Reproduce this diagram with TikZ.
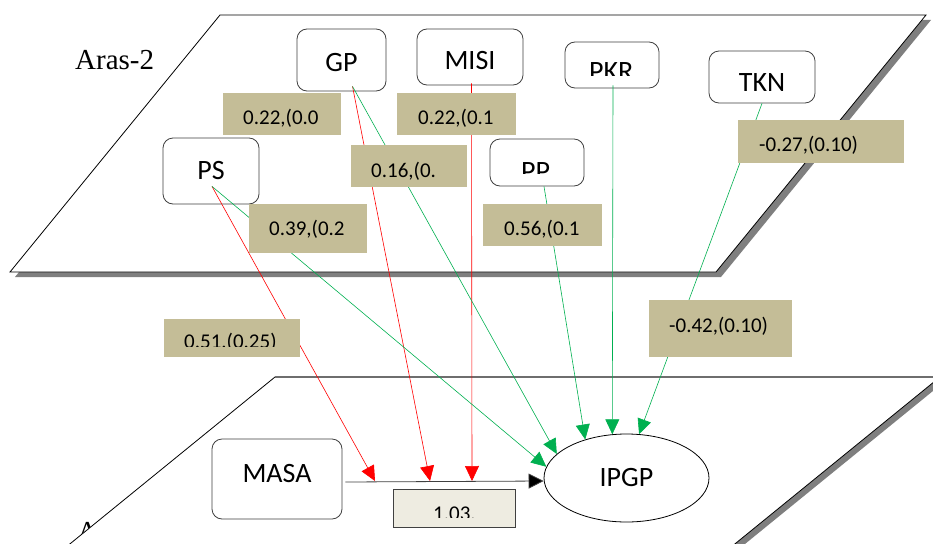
\documentclass[tikz,border=0pt]{standalone}
\usepackage{fontspec}
\setmainfont{Liberation Serif}
\newfontfamily\calib{Carlito}
\usetikzlibrary{arrows.meta,shapes.geometric,calc}

\definecolor{tanbox}{HTML}{C4BD97}
\definecolor{tanlight}{HTML}{EEECE1}
\definecolor{ogreen}{HTML}{00B050}
\definecolor{shadowgray}{HTML}{7F7F7F}
\definecolor{boxline}{HTML}{404040}
\definecolor{edgegray}{HTML}{6E6E6E}

\tikzset{
  varbox/.style={draw=boxline, fill=white, rounded corners=10pt, line width=0.8pt,
    inner sep=0pt, font=\calib\fontsize{28}{30}\selectfont, text=black},
  varoval/.style={ellipse, draw=black, fill=white, line width=0.8pt, inner sep=0pt,
    font=\calib\fontsize{28}{30}\selectfont},
  vartext/.style={anchor=base west, inner sep=0pt, font=\calib\fontsize{28}{30}\selectfont},
  coefbox/.style={fill=tanbox, inner sep=0pt},
  coeftxt/.style={anchor=base west, inner sep=0pt, font=\calib\fontsize{21}{23}\selectfont},
  levtxt/.style={anchor=base west, inner sep=0pt, font=\fontsize{29}{31}\selectfont},
  redpath/.style={draw=red, line width=0.6pt, -{Triangle[length=15pt,width=14pt]}},
  greenpath/.style={draw=ogreen, line width=0.6pt, -{Triangle[length=15pt,width=14pt]}},
  blackpath/.style={draw=boxline, line width=0.8pt, -{Triangle[length=15pt,width=15pt,fill=black]}},
}

\begin{document}
\begin{tikzpicture}[x=1pt,y=-1pt]
\useasboundingbox (0,0) rectangle (933,543);
\clip (0,0) rectangle (933,543);

% top plane (Aras-2)
\fill[shadowgray] (225,20) -- (931,20) -- (721,277) -- (15,277) -- cycle;
\draw[fill=white, line width=0.8pt] (220,15) -- (926,15) -- (716,272) -- (10,272) -- cycle;
\node[levtxt] (aras2) at (75,70) {Aras-2};

% bottom plane (Aras-1)
\node[levtxt] (aras1) at (77,541) {Aras-1};
\fill[shadowgray] (279,382) -- (944,382) -- (670,605) -- (5,605) -- cycle;
\fill[white] (275,377) -- (940,377) -- (666,600) -- (1,600) -- cycle;
\draw[line width=0.8pt] (275,377) -- (1,600);
\draw[line width=0.8pt] (940,377) -- (666,600);
\draw[edgegray, line width=1.2pt] (275,377) -- (940,377);

% variables
\node[varbox, minimum width=89pt, minimum height=62pt, text height=22pt, text depth=0pt] (GP) at (341.5,60) {GP};
\node[varbox, minimum width=106pt, minimum height=56pt, text height=26pt, text depth=0pt] (MISI) at (470,57) {MISI};
\node[varbox, minimum width=94pt, minimum height=46pt] (PKR) at (612,65) {};
\begin{scope}
  \clip (565,42) rectangle (659,75);
  \node[vartext] (PKRt) at (589,81) {PKR};
\end{scope}
\node[varbox, minimum width=106pt, minimum height=52pt, text height=28pt, text depth=0pt] (TKN) at (762,77) {TKN};
\node[varbox, minimum width=94pt, minimum height=47pt] (PP) at (537,162.5) {};
\begin{scope}
  \clip (490,139) rectangle (584,173);
  \node[vartext] (PPt) at (521,180) {PP};
\end{scope}
\node[varbox, minimum width=96pt, minimum height=66pt] (PS) at (211,171) {PS};
\node[varbox, minimum width=130pt, minimum height=80pt, text height=18pt, text depth=12pt] (MASA) at (277,479) {MASA};
\node[varoval, minimum width=165pt, minimum height=88pt] (IPGP) at (626.5,478) {IPGP};

% 1.03 box
\node[fill=tanlight, draw=boxline, line width=0.8pt, inner sep=0pt, minimum width=122pt, minimum height=38pt] (c9) at (454,508) {};
\begin{scope}
  \clip (393,489) rectangle (515,517.5);
  \node[coeftxt] (t9) at (433,520.5) {1.03.};
\end{scope}

% moderation targets on the MASA -> IPGP path
\coordinate (r1) at (375,481);
\coordinate (r2) at (430,481);
\coordinate (r3) at (472,481);

% connectors
\draw[blackpath] ([xshift=3pt,yshift=-3pt]MASA.east) -- ([yshift=-3pt]IPGP.west);
\draw[redpath] ([xshift=1pt,yshift=18pt]PS.south) -- (r1);
\draw[redpath] ([xshift=11pt,yshift=5pt]GP.south) -- (r2);
\draw[redpath] ([xshift=1.5pt,yshift=2pt]MISI.south) -- (r3);
\draw[greenpath] ([xshift=1pt,yshift=18pt]PS.south) -- (IPGP.172);
\draw[greenpath] ([xshift=11pt,yshift=5pt]GP.south) -- (IPGP.161);
\draw[greenpath] ([xshift=7pt]PP.south) -- (IPGP.137);
\draw[greenpath] ([xshift=1pt,yshift=3pt]PKR.south) -- (IPGP.108);
\draw[greenpath] (TKN.south) -- (IPGP.74);

% coefficient labels
\node[coefbox, minimum width=118pt, minimum height=42pt] (c1) at (282,114) {};
\node[coeftxt] (t1) at (243,124) {0.22,(0.0};
\node[coefbox, minimum width=119pt, minimum height=42pt] (c2) at (456.5,114) {};
\node[coeftxt] (t2) at (418,124) {0.22,(0.1};
\node[coefbox, minimum width=116pt, minimum height=42pt] (c3) at (409,166) {};
\node[coeftxt] (t3) at (371,177) {0.16,(0.};
\node[coefbox, minimum width=118pt, minimum height=49pt] (c4) at (308,228.5) {};
\node[coeftxt] (t4) at (269,235) {0.39,(0.2};
\node[coefbox, minimum width=119pt, minimum height=42pt] (c5) at (542.5,225) {};
\node[coeftxt] (t5) at (504,235) {0.56,(0.1};
\node[coefbox, minimum width=166pt, minimum height=43pt] (c6) at (821,141.5) {};
\node[coeftxt] (t6) at (759,151) {-0.27,(0.10)};
\node[coefbox, minimum width=143pt, minimum height=57pt] (c7) at (720.5,328.5) {};
\node[coeftxt] (t7) at (669,332) {-0.42,(0.10)};
\node[coefbox, minimum width=136pt, minimum height=38pt] (c8) at (232,338) {};
\begin{scope}
  \clip (164,319) rectangle (300,346);
  \node[coeftxt] (t8) at (184,348.5) {0.51,(0.25)};
\end{scope}
\end{tikzpicture}
\end{document}
